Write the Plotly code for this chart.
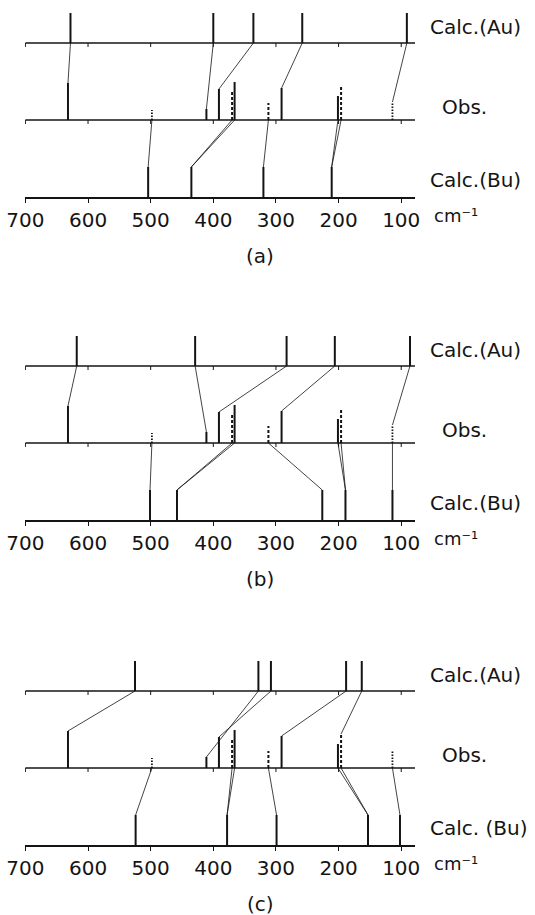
import plotly.graph_objects as go

# ---------------- data (wavenumbers in cm-1) ----------------
tick_vals = [700, 600, 500, 400, 300, 200, 100]
tick_text = ["700", "600", "500", "400", "300", "200", "100"]

# observed bands (same in all three panels)
obs_freq = [632, 498, 411, 391, 370, 366, 312, 291, 201, 196, 114]
obs_kind = ["solid", "dot", "solid", "solid", "dash", "solid", "dash", "solid", "solid", "dash", "dot"]
obs_int = [37, 10, 11, 31, 28, 38, 17, 32, 24, 34, 18]

# panel (a)
au_a = [628, 400, 336, 258, 91]
au_a_obs = [632, 411, 391, 291, 114]
bu_a = [504, 435, 320, 211]
bu_a_obs = [[498], [370, 366], [312], [201, 196]]

# panel (b)
au_b = [618, 429, 283, 206, 86]
au_b_obs = [632, 411, 391, 291, 114]
bu_b = [501, 458, 226, 189, 114]
bu_b_obs = [[498], [370, 366], [312], [201, 196], [114]]

# panel (c)
au_c = [525, 328, 308, 188, 163]
au_c_obs = [632, 411, 391, 291, 196]
bu_c = [524, 378, 299, 153, 102]
bu_c_obs = [[498], [370, 366], [312], [201, 196], [114]]

calc_int = 30  # calculated lines drawn with equal height

panels = [
    ("(a)", au_a, au_a_obs, bu_a, bu_a_obs, "Calc.(Bu)"),
    ("(b)", au_b, au_b_obs, bu_b, bu_b_obs, "Calc.(Bu)"),
    ("(c)", au_c, au_c_obs, bu_c, bu_c_obs, "Calc. (Bu)"),
]

# ---------------- layout constants ----------------
W, H = 535, 915
ML, MR = 25, 120
BU_PX = [197, 520, 845]     # pixel row of each panel's bottom baseline
SPAN = 192
Y_BU, Y_OBS, Y_AU = 0, 77, 154
X_MIN, X_MAX = 78, 700
INK = "#141414"
FONT = "DejaVu Sans"

fig = go.Figure()
obs_h = dict(zip(obs_freq, obs_int))


def seg_trace(xs, ys, width, dash="solid", ax="", color=INK):
    return go.Scatter(x=xs, y=ys, mode="lines", hoverinfo="skip", showlegend=False,
                      line=dict(color=color, width=width, dash=dash),
                      xaxis="x" + ax, yaxis="y" + ax)


def px_x(p):
    return (p - ML) / (W - ML - MR)


def px_y(p):
    return 1 - p / H


annotations = []
for i, (lab, au, au_obs, bu, bu_obs, bu_label) in enumerate(panels):
    ax = "" if i == 0 else str(i + 1)
    base = BU_PX[i]
    # Au and Obs baselines
    bx, by = [], []
    for yb in (Y_AU, Y_OBS):
        bx += [X_MAX, X_MIN, None]
        by += [yb, yb, None]
    fig.add_trace(seg_trace(bx, by, 1.5, ax=ax))
    # tick marks on these baselines
    tx, ty = [], []
    for yb in (Y_AU, Y_OBS):
        for t in tick_vals:
            tx += [t, t, None]
            ty += [yb, yb - 4, None]
    fig.add_trace(seg_trace(tx, ty, 1, ax=ax))
    # connectors Au -> Obs
    cx, cy = [], []
    for a, o in zip(au, au_obs):
        cx += [a, o, None]
        cy += [Y_AU, Y_OBS + obs_h[o], None]
    # connectors Obs -> Bu
    for b, olist in zip(bu, bu_obs):
        for o in olist:
            cx += [o, b, None]
            cy += [Y_OBS, Y_BU + calc_int, None]
    fig.add_trace(seg_trace(cx, cy, 0.8, ax=ax))
    # calculated lines
    lx, ly = [], []
    for a in au:
        lx += [a, a, None]
        ly += [Y_AU, Y_AU + calc_int, None]
    for b in bu:
        lx += [b, b, None]
        ly += [Y_BU, Y_BU + calc_int, None]
    fig.add_trace(seg_trace(lx, ly, 2, ax=ax))
    # observed lines by style
    for kind, wid, dash in (("solid", 2, "solid"), ("dash", 2, "3px,2px"), ("dot", 1.8, "1.5px,1.5px")):
        ox, oy = [], []
        for f, k, h in zip(obs_freq, obs_kind, obs_int):
            if k == kind:
                ox += [f, f, None]
                oy += [Y_OBS, Y_OBS + h, None]
        fig.add_trace(seg_trace(ox, oy, wid, dash=dash, ax=ax))

    f20 = dict(family=FONT, size=20, color=INK)
    for text, xpx, ypx, fnt in (("Calc.(Au)", 428, base - Y_AU - 16, f20),
                                ("Obs.", 440, base - Y_OBS - 13, f20),
                                (bu_label, 428, base - 17, f20),
                                ("cm\u207b\u00b9", 432, base + 18, dict(family=FONT, size=18, color=INK))):
        annotations.append(dict(text=text, xref="paper", x=px_x(xpx), xanchor="left",
                                yref="paper", y=px_y(ypx), yanchor="middle",
                                showarrow=False, font=fnt))
    annotations.append(dict(text=lab, xref="paper", x=px_x(260), xanchor="center",
                            yref="paper", y=px_y(base + 59), yanchor="middle",
                            showarrow=False, font=f20))

layout = dict(width=W, height=H, margin=dict(l=ML, r=MR, t=0, b=0, autoexpand=False),
              paper_bgcolor="white", plot_bgcolor="white", showlegend=False,
              annotations=annotations)
for i, bpx in enumerate(BU_PX):
    k = "" if i == 0 else str(i + 1)
    layout["xaxis" + k] = dict(domain=[0, 1], range=[X_MAX + 0.6, X_MIN], anchor="y" + k,
                               showline=True, linecolor=INK, linewidth=1.5,
                               ticks="outside", ticklen=4, tickwidth=1, tickcolor=INK,
                               tickvals=tick_vals, ticktext=tick_text,
                               tickfont=dict(family=FONT, size=20, color=INK),
                               showgrid=False, zeroline=False, fixedrange=True)
    layout["yaxis" + k] = dict(domain=[1 - bpx / H, 1 - (bpx - SPAN) / H], range=[0, SPAN],
                               anchor="x" + k, visible=False, fixedrange=True)
fig.update_layout(**layout)
fig.write_html("out.html", config={"displayModeBar": False},
               post_script="document.body.style.margin='0';document.body.style.overflow='hidden';")
